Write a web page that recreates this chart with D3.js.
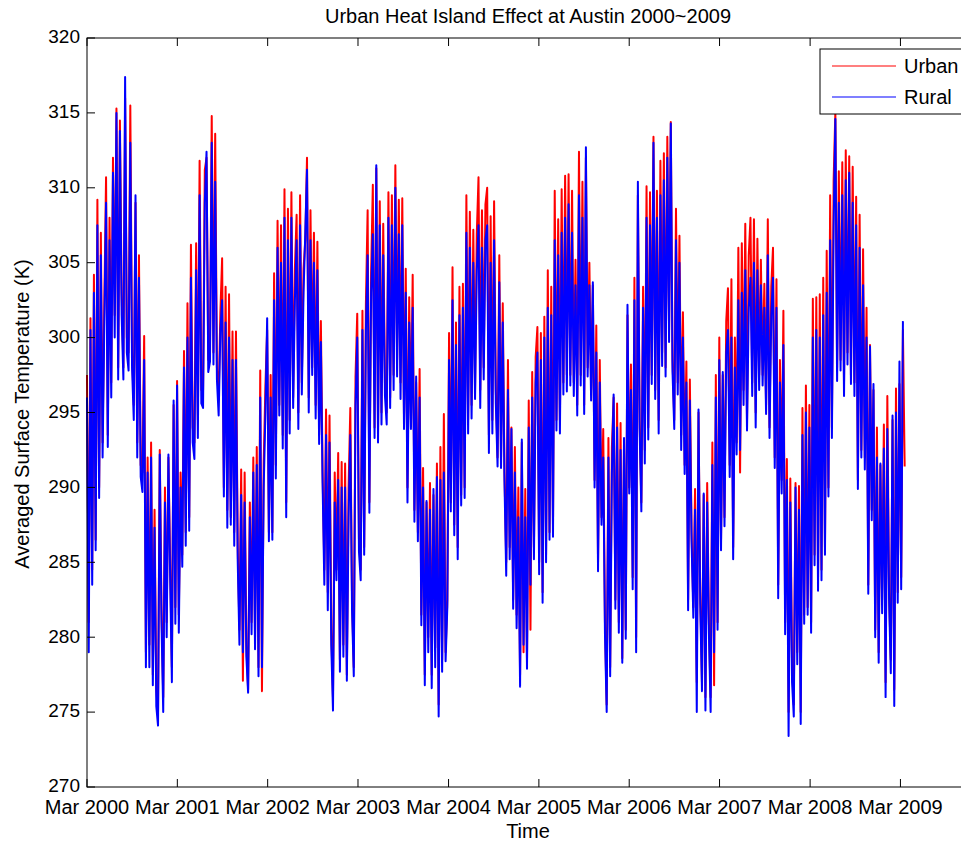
<!DOCTYPE html>
<html>
<head>
<meta charset="utf-8">
<script src="https://cdn.jsdelivr.net/npm/d3@7"></script>
<style>
  body { margin: 0; background: #fff; }
  text { font-family: "Liberation Sans", Arial, sans-serif; fill: #000; }
</style>
</head>
<body>
<svg id="chart" width="961" height="842"></svg>
<script>
// Weekly averaged surface temperature (K), one value every 7 days from 1 Mar 2000.
const seriesStart = new Date(2000, 2, 1);
const stepDays = 7;

const urban = [
  297.5,281.0,301.3,284.5,304.2,286.5,309.2,290.0,307.0,293.0,302.5,310.7,293.5,308.0,297.0,312.0,301.5,315.3,298.0,314.5,303.0,298.0,316.0,300.0,299.0,315.5,299.0,295.5,309.0,293.0,305.5,291.5,291.0,300.1,279.0,292.0,279.5,293.0,277.5,288.5,276.5,275.0,292.5,282.0,276.0,290.0,281.0,292.0,285.0,278.0,295.5,282.0,
  297.1,281.5,291.0,285.5,299.1,287.0,302.3,288.0,306.2,294.0,293.0,306.3,294.5,311.8,296.5,296.5,311.2,312.0,298.5,299.5,314.8,299.0,313.6,298.0,296.0,301.7,305.3,290.0,303.4,288.5,302.9,288.0,300.4,287.0,300.4,286.0,280.5,291.2,277.1,291.0,279.5,276.5,289.0,281.0,292.0,280.0,292.7,278.0,297.8,276.4,291.7,296.8,
  300.5,287.0,297.5,287.0,304.3,291.5,307.8,295.5,307.5,293.5,309.9,289.0,308.6,294.5,309.7,296.0,304.6,308.2,295.0,309.5,297.0,304.6,306.5,312.0,296.0,308.5,298.0,307.0,295.5,306.4,293.5,301.1,291.0,284.5,295.2,283.0,294.8,280.5,276.0,291.0,284.5,292.3,278.5,291.7,279.5,291.6,277.5,290.0,295.3,282.5,278.0,297.4,
  301.6,286.5,284.5,301.8,286.0,302.3,308.5,289.0,304.3,310.2,294.0,311.3,294.0,309.1,295.0,307.6,297.0,295.0,309.7,296.0,309.5,297.5,311.5,298.5,309.2,297.0,309.3,294.5,304.6,290.0,302.7,294.5,304.2,288.5,297.0,287.0,297.9,281.5,291.3,277.5,289.0,280.0,290.3,277.5,289.5,279.3,291.6,275.5,292.7,278.5,294.9,279.0,
  282.5,300.3,289.0,304.7,287.5,301.0,286.0,303.4,289.5,303.6,290.0,309.5,294.5,308.4,295.5,307.2,296.5,306.9,310.7,296.5,308.5,298.0,308.9,310.0,293.5,308.1,294.5,309.1,296.5,292.0,305.5,292.0,302.3,291.0,285.0,298.5,286.0,294.0,282.5,292.7,281.5,290.0,277.5,293.0,279.0,289.9,278.5,295.8,280.5,297.7,286.0,298.7,
  300.7,285.0,300.3,283.0,301.4,285.5,304.5,287.0,303.4,287.5,309.8,294.5,307.9,294.5,309.9,297.0,310.8,297.5,310.9,297.5,309.8,297.0,305.2,295.5,312.4,297.5,310.4,295.5,312.0,298.0,305.0,296.5,303.5,290.5,300.8,285.0,298.5,288.0,293.9,281.0,275.5,293.3,278.0,292.7,296.0,282.5,295.6,281.0,294.3,278.6,293.0,280.5,
  301.5,290.0,298.2,284.0,304.0,280.0,309.5,294.5,289.0,303.4,292.5,310.1,294.0,309.7,297.5,313.4,296.5,309.8,294.5,311.8,299.0,312.3,298.0,313.4,300.5,314.4,298.5,294.5,308.6,297.0,306.8,293.5,301.7,291.5,298.4,282.5,297.2,287.0,282.0,289.9,277.0,295.0,283.0,277.0,289.5,276.0,290.3,281.0,276.0,293.0,276.8,297.5,
  281.0,300.0,286.5,297.5,288.0,301.1,303.3,291.5,303.9,286.0,300.0,293.0,306.0,291.0,306.3,296.5,307.6,294.5,305.5,308.0,297.0,307.9,295.0,306.6,297.5,305.2,297.5,303.6,295.5,307.9,294.0,303.4,306.0,292.0,303.9,283.5,298.5,290.5,301.8,281.0,291.9,275.0,290.6,278.0,275.5,290.3,279.0,290.1,275.0,295.3,281.5,296.8,282.0,
  295.5,281.0,302.6,285.5,302.7,284.0,302.9,284.5,304.0,286.0,305.8,290.0,309.5,294.0,310.5,315.1,298.0,311.1,298.5,311.7,297.0,312.5,299.0,312.1,297.5,311.4,297.0,309.4,290.5,308.2,292.5,305.9,292.0,302.0,283.5,299.5,288.5,296.5,280.5,294.0,279.0,291.5,282.5,294.2,277.0,296.1,283.0,278.5,294.5,276.5,296.6,283.0,
  296.9,284.0,300.5,291.4
];

const rural = [
  296.0,279.0,300.5,283.5,303.0,285.8,307.5,289.3,305.5,292.0,301.0,309.0,292.7,306.5,296.0,311.0,300.0,315.0,297.2,313.8,301.5,297.2,317.4,299.0,297.8,313.0,298.0,294.5,309.5,292.0,304.0,290.7,289.7,298.5,278.0,291.0,278.0,292.0,276.8,287.3,275.4,274.1,292.2,281.0,275.0,289.0,280.0,292.2,284.0,277.0,295.8,280.9,
  296.8,280.3,290.0,284.7,298.0,286.1,300.0,287.1,304.0,293.0,291.9,304.5,293.3,309.5,295.6,295.3,309.0,312.4,297.7,298.4,313.0,298.2,310.4,297.2,294.8,300.5,302.5,289.4,301.0,287.3,300.0,287.5,298.5,286.1,298.5,285.1,279.5,289.5,279.0,289.0,278.7,276.3,288.0,280.2,291.0,279.2,291.5,277.4,296.0,278.0,290.0,295.0,
  301.3,286.4,296.0,286.5,302.5,290.6,306.0,294.8,305.0,292.6,308.0,288.0,306.5,293.6,308.0,295.3,302.5,306.5,293.9,307.5,296.2,303.0,306.9,311.2,295.0,306.5,297.5,305.0,294.6,304.5,292.9,299.7,290.3,283.5,293.5,281.8,293.0,279.5,275.1,289.0,283.8,290.5,277.7,290.0,278.7,290.0,277.1,288.0,293.5,281.8,277.4,295.5,
  300.0,285.7,283.8,300.5,285.5,300.5,305.5,288.3,303.0,306.9,293.3,311.5,293.0,307.5,294.2,305.5,296.1,294.2,308.0,295.3,307.5,296.5,310.0,297.4,306.9,295.9,307.5,293.9,303.0,289.0,301.0,293.9,302.0,287.7,297.4,286.4,296.0,280.8,290.0,276.8,289.1,279.0,288.5,276.6,289.9,278.0,290.7,274.7,290.5,277.7,291.0,278.4,
  282.0,298.5,288.4,302.5,286.8,299.5,285.2,301.5,288.8,302.0,289.3,307.0,293.6,306.0,294.6,305.0,295.9,304.5,307.5,295.3,306.0,297.2,306.5,307.5,292.3,305.0,293.6,306.5,295.6,291.4,303.7,291.3,301.0,290.4,284.1,296.5,285.2,293.9,281.9,291.0,280.6,288.0,276.7,293.2,279.5,288.0,277.9,294.0,283.5,296.0,285.2,297.0,
  299.0,284.2,298.5,282.3,300.0,285.0,302.0,286.5,301.5,286.7,306.5,293.8,305.5,293.6,307.0,296.2,308.0,296.4,308.9,296.8,307.0,296.1,303.5,294.8,309.5,296.8,308.0,294.9,312.7,297.4,303.5,295.8,303.7,290.0,299.0,284.4,297.0,287.5,292.0,280.2,275.0,292.0,277.4,291.0,296.2,281.9,294.0,280.3,292.5,278.3,293.3,279.9,
  302.2,289.6,296.5,283.2,302.5,279.0,310.4,293.9,288.4,302.0,291.6,308.0,293.2,307.5,296.9,313.0,295.9,308.0,293.6,309.5,298.1,310.5,297.4,312.0,299.7,314.3,297.7,293.9,306.5,296.2,305.0,292.5,300.0,290.9,297.0,281.8,295.8,286.4,281.3,288.5,275.0,295.2,282.2,276.4,289.6,275.1,289.0,280.3,275.0,291.5,279.0,296.0,
  280.5,298.5,285.8,297.7,287.4,299.0,300.5,290.7,300.0,285.2,298.0,292.2,302.5,292.5,303.0,295.5,304.5,293.8,302.0,304.0,296.1,305.0,294.0,304.5,296.5,303.5,296.8,302.0,294.9,305.5,293.3,301.5,304.0,291.3,302.0,282.6,297.0,289.6,299.5,280.2,290.5,273.4,289.0,277.0,274.7,290.0,278.2,288.5,274.2,293.5,280.9,295.0,281.5,
  294.0,280.3,300.0,284.8,300.5,283.1,300.0,283.8,301.5,285.5,303.0,289.4,306.5,293.3,307.5,314.6,297.1,309.0,297.8,309.5,296.1,310.5,298.2,311.0,296.9,309.0,296.1,307.5,289.9,306.0,292.0,303.5,291.2,300.0,282.9,299.4,287.8,296.9,280.0,292.0,278.3,291.6,281.6,292.6,276.0,293.9,282.6,277.6,294.8,275.4,295.0,282.3,
  298.4,283.2,301.1,null
];

const seriesNames = ["Urban", "Rural"];
const seriesColors = ["#ff0000", "#0000ff"];
const yTicks = [270, 275, 280, 285, 290, 295, 300, 305, 310, 315, 320];
const xTickLabels = ["Mar 2000", "Mar 2001", "Mar 2002", "Mar 2003", "Mar 2004",
                     "Mar 2005", "Mar 2006", "Mar 2007", "Mar 2008", "Mar 2009"];
const xLimits = [new Date(2000, 2, 1), new Date(2009, 11, 3)];
const yLimits = [270, 320];

const plot = { left: 87, top: 38, right: 969, bottom: 787 };
const svg = d3.select("#chart");

const x = d3.scaleTime().domain(xLimits).range([plot.left, plot.right]);
const y = d3.scaleLinear().domain(yLimits).range([plot.bottom, plot.top]);

const parseTick = d3.timeParse("%b %Y");
const xTickDates = xTickLabels.map(parseTick);
const dateAt = i => d3.timeDay.offset(seriesStart, i * stepDays);

// data series: urban first, rural drawn over it
const line = d3.line()
  .defined(d => d.v != null)
  .x(d => x(d.date))
  .y(d => y(d.v));

[urban, rural].forEach((vals, k) => {
  const pts = vals.map((v, i) => ({ date: dateAt(i), v }));
  svg.append("path")
    .datum(pts)
    .attr("fill", "none")
    .attr("stroke", seriesColors[k])
    .attr("stroke-width", 2)
    .attr("stroke-linejoin", "round")
    .attr("d", line);
});

// axes box
const axisG = svg.append("g").attr("stroke", "#000").attr("stroke-width", 1).attr("fill", "none");
axisG.append("rect")
  .attr("x", plot.left).attr("y", plot.top)
  .attr("width", plot.right - plot.left).attr("height", plot.bottom - plot.top);

const tickLen = 8;
// x ticks, inward on bottom and top
axisG.selectAll(".xtb").data(xTickDates).join("line")
  .attr("class", "xtb")
  .attr("x1", d => x(d)).attr("x2", d => x(d))
  .attr("y1", plot.bottom).attr("y2", plot.bottom - tickLen);
axisG.selectAll(".xtt").data(xTickDates).join("line")
  .attr("class", "xtt")
  .attr("x1", d => x(d)).attr("x2", d => x(d))
  .attr("y1", plot.top).attr("y2", plot.top + tickLen);
// y ticks, inward on left and right
axisG.selectAll(".ytl").data(yTicks).join("line")
  .attr("class", "ytl")
  .attr("x1", plot.left).attr("x2", plot.left + tickLen)
  .attr("y1", d => y(d)).attr("y2", d => y(d));
axisG.selectAll(".ytr").data(yTicks).join("line")
  .attr("class", "ytr")
  .attr("x1", plot.right).attr("x2", plot.right - tickLen)
  .attr("y1", d => y(d)).attr("y2", d => y(d));

const fs = 20;
svg.append("g").selectAll("text").data(xTickDates).join("text")
  .attr("x", d => x(d)).attr("y", plot.bottom + 27)
  .attr("text-anchor", "middle").attr("font-size", fs)
  .text((d, i) => xTickLabels[i]);

svg.append("g").selectAll("text").data(yTicks).join("text")
  .attr("x", plot.left - 7).attr("y", d => y(d)).attr("dy", "0.28em")
  .attr("text-anchor", "end").attr("font-size", 19)
  .text(d => d);

svg.append("text")
  .attr("x", (plot.left + plot.right) / 2).attr("y", 23)
  .attr("text-anchor", "middle").attr("font-size", fs)
  .text("Urban Heat Island Effect at Austin 2000~2009");

svg.append("text")
  .attr("x", (plot.left + plot.right) / 2).attr("y", 838)
  .attr("text-anchor", "middle").attr("font-size", fs)
  .text("Time");

svg.append("text")
  .attr("transform", "translate(29,414) rotate(-90)")
  .attr("text-anchor", "middle").attr("font-size", fs)
  .text("Averaged Surface Temperature (K)");

// legend
const lg = svg.append("g");
lg.append("rect")
  .attr("x", 820).attr("y", 49).attr("width", 146).attr("height", 65)
  .attr("fill", "#fff").attr("stroke", "#000").attr("stroke-width", 1);
seriesNames.forEach((name, k) => {
  const ly = 66 + k * 31;
  lg.append("line")
    .attr("x1", 832).attr("x2", 896).attr("y1", ly).attr("y2", ly)
    .attr("stroke", seriesColors[k]).attr("stroke-width", 1.2);
  lg.append("text")
    .attr("x", 904).attr("y", ly).attr("dy", "0.36em")
    .attr("font-size", fs).text(name);
});
</script>
</body>
</html>
